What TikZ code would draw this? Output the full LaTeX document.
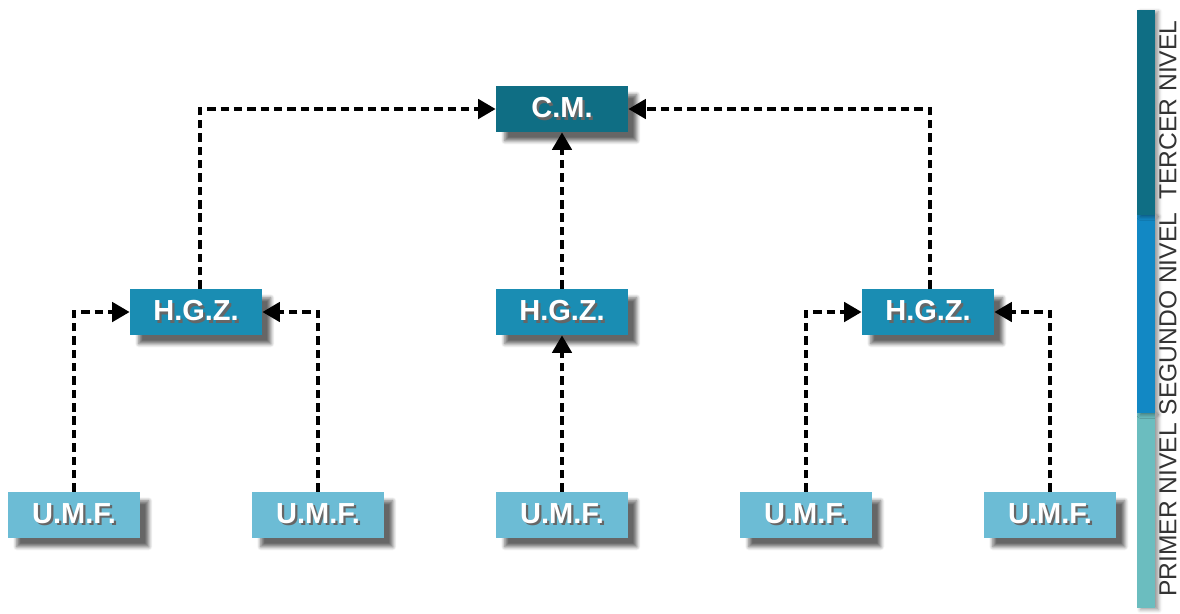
\documentclass[tikz,border=0pt]{standalone}
\usepackage{fontspec}
\setmainfont{Liberation Sans}
\usetikzlibrary{arrows.meta,shadows.blur}
\definecolor{tercer}{HTML}{0F6E84}
\definecolor{segundo}{HTML}{1A8DB3}
\definecolor{primer}{HTML}{6CBCD5}
\definecolor{barmid}{HTML}{1288C4}
\definecolor{barlow}{HTML}{6BBDBF}
\newcommand\shadowtxt[1]{\makebox[0pt][l]{\hspace{1.3pt}\raisebox{-1.3pt}{\textcolor{black!60}{#1}}}#1}

\begin{document}
\begin{tikzpicture}[x=0.02cm,y=-0.02cm,
    box/.style={minimum width=2.64cm,minimum height=0.92cm,inner sep=0pt,
      text=white,font=\fontsize{16.5}{18}\selectfont\bfseries,
      blur shadow={shadow xshift=5pt,shadow yshift=-5pt,shadow blur steps=6,shadow opacity=60}},
    cmbox/.style={box,fill=tercer},
    hgzbox/.style={box,fill=segundo},
    umfbox/.style={box,fill=primer},
    link/.style={draw=black,line width=2.2pt,dash pattern=on 4.8pt off 2.8pt,
      -{Triangle[length=10pt,width=11pt]}},
    nivel/.style={rotate=90,text=black!80,font=\fontsize{14}{16}\selectfont}]
  \useasboundingbox (0,0) rectangle (1180,613);

  % boxes
  \node[cmbox] (cm) at (562,109) {\shadowtxt{C.M.}};
  \node[hgzbox] (hgzL) at (196,312) {\shadowtxt{H.G.Z.}};
  \node[hgzbox] (hgzC) at (562,312) {\shadowtxt{H.G.Z.}};
  \node[hgzbox] (hgzR) at (928,312) {\shadowtxt{H.G.Z.}};
  \node[umfbox] (umfA) at (74,515) {\shadowtxt{U.M.F.}};
  \node[umfbox] (umfB) at (318,515) {\shadowtxt{U.M.F.}};
  \node[umfbox] (umfC) at (562,515) {\shadowtxt{U.M.F.}};
  \node[umfbox] (umfD) at (806,515) {\shadowtxt{U.M.F.}};
  \node[umfbox] (umfE) at (1050,515) {\shadowtxt{U.M.F.}};

  % connectors
  \draw[link] ([xshift=0.08cm]hgzL.north) |- (cm.west);
  \draw[link] (hgzC.north) -- (cm.south);
  \draw[link] ([xshift=0.04cm]hgzR.north) |- (cm.east);
  \draw[link] (umfA.north) |- (hgzL.west);
  \draw[link] (umfB.north) |- (hgzL.east);
  \draw[link] (umfC.north) -- (hgzC.south);
  \draw[link] (umfD.north) |- (hgzR.west);
  \draw[link] (umfE.north) |- (hgzR.east);

  % level bar
  \fill[barlow,blur shadow={shadow xshift=2pt,shadow yshift=-1pt}] (1137,413) rectangle (1155,608);
  \fill[barmid,blur shadow={shadow xshift=2pt,shadow yshift=-1pt}] (1137,215) rectangle (1155,413);
  \fill[tercer,blur shadow={shadow xshift=2pt,shadow yshift=-1pt}] (1137,10) rectangle (1155,215);
  \node[nivel] (tercer) at (1168,110) {TERCER NIVEL};
  \node[nivel] (segundo) at (1168,314) {SEGUNDO NIVEL};
  \node[nivel] (primer) at (1168,510) {PRIMER NIVEL};
\end{tikzpicture}
\end{document}
